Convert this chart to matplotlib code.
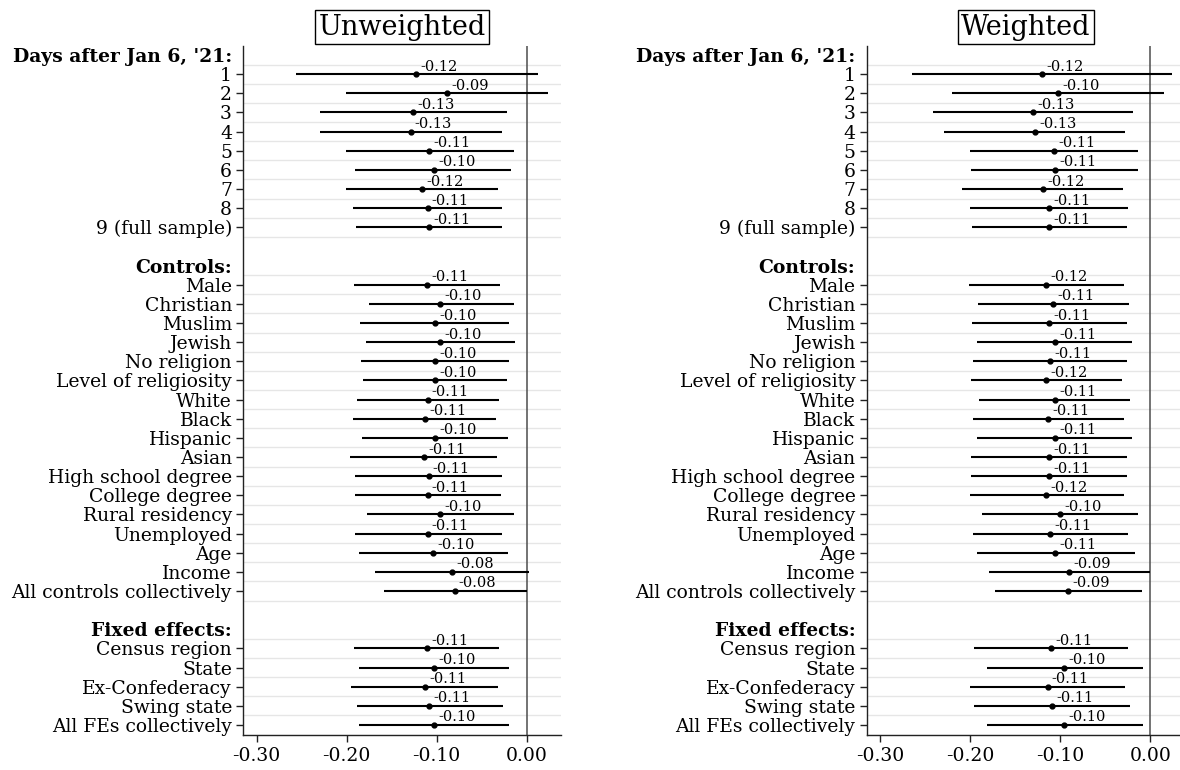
import matplotlib
import matplotlib.pyplot as plt

matplotlib.use("agg")

plt.rcParams["font.family"] = ["DejaVu Serif"]

# row labels, grouped under bold headings
days_labels = ["1", "2", "3", "4", "5", "6", "7", "8", "9 (full sample)"]
control_labels = ["Male", "Christian", "Muslim", "Jewish", "No religion",
                  "Level of religiosity", "White", "Black", "Hispanic", "Asian",
                  "High school degree", "College degree", "Rural residency",
                  "Unemployed", "Age", "Income", "All controls collectively"]
fe_labels = ["Census region", "State", "Ex-Confederacy", "Swing state",
             "All FEs collectively"]
groups = [("Days after Jan 6, '21:", days_labels),
          ("Controls:", control_labels),
          ("Fixed effects:", fe_labels)]

# unweighted estimates and 95% CI bounds
unw_est = [-0.1225, -0.088, -0.126, -0.129, -0.108, -0.103, -0.116, -0.110, -0.108,
           -0.111, -0.096, -0.102, -0.096, -0.102, -0.102, -0.110, -0.113, -0.102,
           -0.114, -0.109, -0.110, -0.096, -0.110, -0.104, -0.083, -0.080,
           -0.111, -0.103, -0.113, -0.108, -0.103]
unw_lo = [-0.256, -0.2005, -0.230, -0.229, -0.2005, -0.191, -0.2005, -0.1925, -0.190,
          -0.1917, -0.175, -0.1855, -0.178, -0.184, -0.1817, -0.1888, -0.1925, -0.1825,
          -0.1959, -0.191, -0.191, -0.177, -0.1904, -0.1867, -0.168, -0.158,
          -0.192, -0.1867, -0.195, -0.189, -0.186]
unw_hi = [0.012, 0.024, -0.022, -0.028, -0.014, -0.017, -0.032, -0.0275, -0.027,
          -0.0296, -0.0146, -0.020, -0.0134, -0.020, -0.0217, -0.0313, -0.034, -0.0209,
          -0.0325, -0.027, -0.0284, -0.0142, -0.028, -0.0213, 0.002, 0.000,
          -0.0304, -0.0196, -0.032, -0.026, -0.0196]

# weighted estimates and 95% CI bounds
w_est = [-0.120, -0.102, -0.130, -0.128, -0.107, -0.106, -0.119, -0.112, -0.112,
         -0.116, -0.108, -0.112, -0.106, -0.111, -0.116, -0.106, -0.113, -0.106,
         -0.112, -0.112, -0.116, -0.100, -0.111, -0.106, -0.090, -0.091,
         -0.110, -0.096, -0.114, -0.109, -0.096]
w_lo = [-0.2646, -0.220, -0.2409, -0.2292, -0.1996, -0.1988, -0.2088, -0.1996, -0.198,
        -0.2013, -0.1909, -0.1984, -0.1925, -0.1963, -0.1992, -0.1896, -0.1967, -0.1921,
        -0.1988, -0.1988, -0.2005, -0.1867, -0.1971, -0.1921, -0.1792, -0.172,
        -0.1959, -0.1813, -0.1996, -0.1959, -0.1813]
w_hi = [0.0237, 0.0154, -0.0192, -0.0275, -0.0138, -0.0138, -0.030, -0.0246, -0.0254,
        -0.0296, -0.0234, -0.0254, -0.020, -0.0254, -0.0309, -0.0221, -0.0296, -0.0204,
        -0.0259, -0.0259, -0.0296, -0.0134, -0.025, -0.0175, 0.000, -0.0092,
        -0.0246, -0.008, -0.0275, -0.0225, -0.008]

x_ticks = [-0.30, -0.20, -0.10, 0.00]

# lay out rows: heading, its items, then a blank row before the next heading
ypos, tick_pos, tick_text, header_idx, grid_y = [], [], [], [], []
row = 0
for heading, items in groups:
    header_idx.append(len(tick_pos))
    tick_pos.append(row)
    tick_text.append(heading)
    for lab in items:
        row += 1
        ypos.append(row)
        tick_pos.append(row)
        tick_text.append(lab)
    grid_y.extend(r + 0.5 for r in range(row - len(items), row + 1))
    row += 2
n_rows = tick_pos[-1]


def draw_panel(ax, title, est, lo, hi):
    for y in grid_y:
        ax.axhline(y, color="#e6e6e6", lw=1.0, zorder=0)
    ax.axvline(0, color="#4d4d4d", lw=1.1, zorder=1)
    ax.hlines(ypos, lo, hi, color="black", lw=1.5, zorder=2)
    ax.plot(est, ypos, "o", color="black", ms=3.5, zorder=3)
    for x, y in zip(est, ypos):
        ax.annotate(f"{x:.2f}", (x, y), xytext=(3, 2.5), textcoords="offset points",
                    ha="left", va="baseline", fontsize=10.5, zorder=4)

    ax.set_xlim(-0.315, 0.038)
    ax.set_ylim(n_rows + 0.5, -0.5)
    ax.set_xticks(x_ticks)
    ax.set_xticklabels([f"{t:.2f}" for t in x_ticks])
    ax.set_yticks(tick_pos)
    ax.set_yticklabels(tick_text)
    ax.tick_params(axis="both", labelsize=13.5, length=5, width=1.0, color="#222222")
    ax.tick_params(axis="x", pad=4)
    ax.tick_params(axis="y", pad=3)
    ticks = ax.yaxis.get_major_ticks()
    labels = ax.get_yticklabels()
    for i in header_idx:
        ticks[i].tick1line.set_visible(False)
        labels[i].set_fontweight("bold")

    for side in ("top", "right"):
        ax.spines[side].set_visible(False)
    for side in ("left", "bottom"):
        ax.spines[side].set_color("#222222")
        ax.spines[side].set_linewidth(1.0)

    ax.annotate(title, (0.5, 1.0), xycoords="axes fraction", xytext=(0, 3.5),
                textcoords="offset points", ha="center", va="bottom", fontsize=19.5,
                bbox=dict(boxstyle="square,pad=0.12", fc="white", ec="black", lw=1.0))


fig = plt.figure(figsize=(11.8, 7.7), dpi=100)
ax_left = fig.add_axes([243 / 1180, 0.0461, 318 / 1180, 0.8948])
ax_right = fig.add_axes([866.5 / 1180, 0.0461, 318 / 1180, 0.8948])

draw_panel(ax_left, "Unweighted", unw_est, unw_lo, unw_hi)
draw_panel(ax_right, "Weighted", w_est, w_lo, w_hi)

fig.savefig("out.png", dpi=100)
